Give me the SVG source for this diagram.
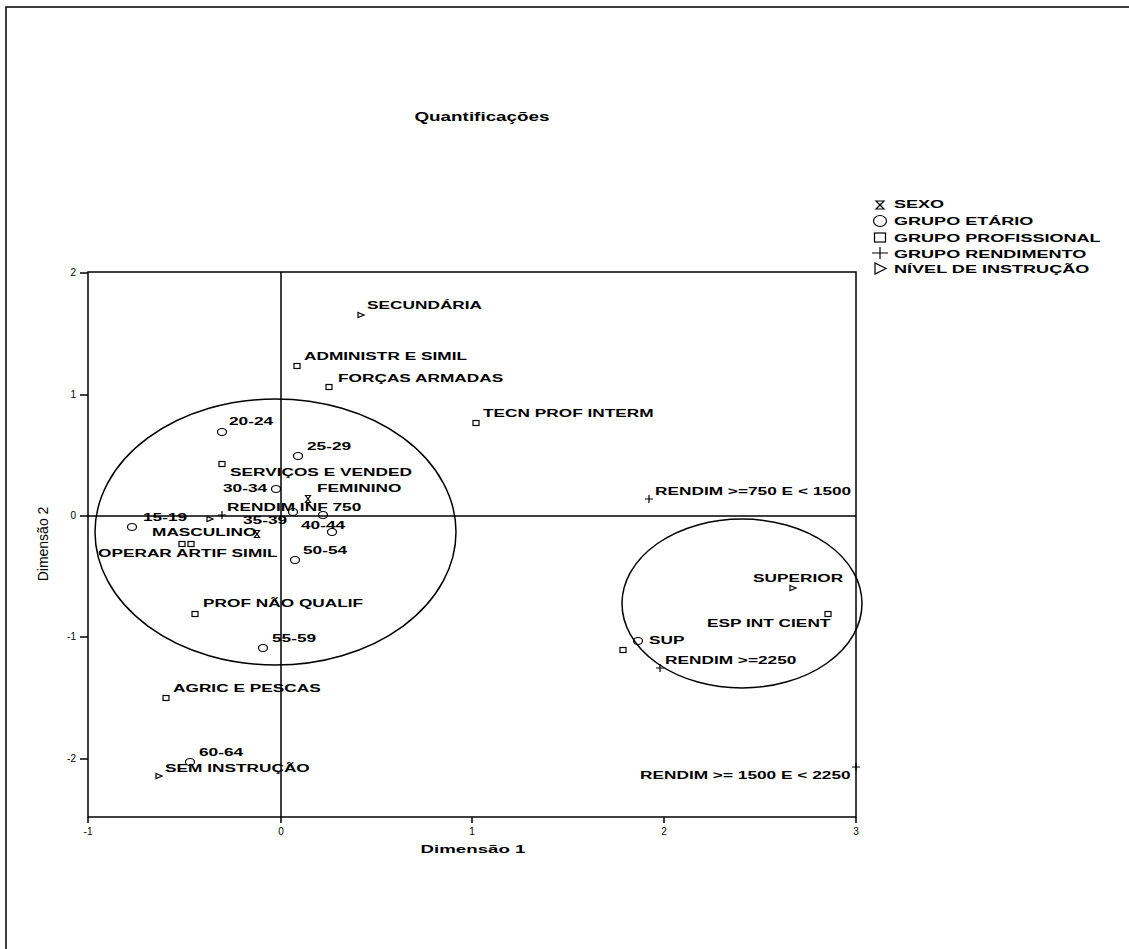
<svg xmlns="http://www.w3.org/2000/svg" xmlns:xlink="http://www.w3.org/1999/xlink" width="1129" height="949" viewBox="0 0 1129 949">
<style>
.mk{fill:none;stroke:#000;stroke-width:1.2}
.ln{fill:none;stroke:#000;stroke-width:1.5}
.lb{font-family:"Liberation Sans",Arial,sans-serif;font-weight:bold;font-size:11px;fill:#000}
.lg{font-family:"Liberation Sans",Arial,sans-serif;font-weight:bold;font-size:10.5px;fill:#000}
.tk{font-family:"Liberation Sans",Arial,sans-serif;font-size:10px;fill:#000}
.ttl{font-family:"Liberation Sans",Arial,sans-serif;font-weight:bold;font-size:13px;fill:#000}
.ax{font-family:"Liberation Sans",Arial,sans-serif;font-size:14px;fill:#000}
</style>
<defs>
<ellipse id="mc" rx="4.5" ry="3.5" class="mk"/>
<rect id="ms" x="-3" y="-2.5" width="6" height="5" class="mk"/>
<path id="mt" d="M-3,-2.5 L3,0 L-3,2.5 Z" class="mk"/>
<path id="mp" d="M-4,0 H4 M0,-4 V4" class="mk"/>
<path id="mh" d="M-2.5,-3.5 H2.5 L-2.5,3.5 H2.5 Z" class="mk"/>
</defs>
<rect width="1129" height="949" fill="#fff"/>
<path class="ln" d="M6,949 V7 H1129"/>
<text class="ttl" text-anchor="middle" transform="translate(482 121) scale(1.45 1)">Quantificações</text>
<g id="legend">
<path class="mk" d="M876,201 H884 L876,209 H884 Z"/>
<text class="lg" transform="translate(894 208) scale(1.72 1)">SEXO</text>
<ellipse class="mk" cx="880" cy="221" rx="6.5" ry="5.5"/>
<text class="lg" transform="translate(894 225) scale(1.72 1)">GRUPO ETÁRIO</text>
<rect class="mk" x="874.5" y="233" width="11" height="9"/>
<text class="lg" transform="translate(894 242) scale(1.72 1)">GRUPO PROFISSIONAL</text>
<path class="mk" d="M872,253 H888 M880,247 V259"/>
<text class="lg" transform="translate(894 258) scale(1.72 1)">GRUPO RENDIMENTO</text>
<path class="mk" d="M875,263 L886,268.5 L875,274 Z"/>
<text class="lg" transform="translate(894 273) scale(1.72 1)">NÍVEL DE INSTRUÇÃO</text>
</g>
<g id="axes">
<rect class="ln" x="88" y="272" width="768" height="545"/>
<path class="ln" d="M281,272 V817 M88,516 H856"/>
<path class="ln" d="M80,273 H88 M80,395 H88 M80,516 H88 M80,637 H88 M80,759 H88"/>
<path class="ln" d="M88,817 V823 M281,817 V823 M472,817 V823 M664,817 V823 M856,817 V823"/>
<text class="tk" text-anchor="end" x="76" y="276">2</text>
<text class="tk" text-anchor="end" x="76" y="398">1</text>
<text class="tk" text-anchor="end" x="76" y="519">0</text>
<text class="tk" text-anchor="end" x="76" y="640">-1</text>
<text class="tk" text-anchor="end" x="76" y="762">-2</text>
<text class="tk" text-anchor="middle" x="88" y="835">-1</text>
<text class="tk" text-anchor="middle" x="281" y="835">0</text>
<text class="tk" text-anchor="middle" x="472" y="835">1</text>
<text class="tk" text-anchor="middle" x="664" y="835">2</text>
<text class="tk" text-anchor="middle" x="856" y="835">3</text>
<text class="lb" text-anchor="middle" transform="translate(473 853) scale(1.7 1)">Dimensão 1</text>
<text class="ax" text-anchor="middle" transform="translate(48 544) rotate(-90)">Dimensão 2</text>
</g>
<g id="connectors">
<ellipse class="ln" cx="275.5" cy="532" rx="180.5" ry="133"/>
<ellipse class="ln" cx="742" cy="603.5" rx="120" ry="84.5"/>
</g>
<g id="n-secundaria"><use href="#mt" x="361" y="315"/><text class="lb" transform="translate(367 309) scale(1.57 1)">SECUNDÁRIA</text></g>
<g id="n-administr"><use href="#ms" x="297" y="366"/><text class="lb" transform="translate(304 360) scale(1.57 1)">ADMINISTR E SIMIL</text></g>
<g id="n-forcas"><use href="#ms" x="329" y="387"/><text class="lb" transform="translate(338 382) scale(1.57 1)">FORÇAS ARMADAS</text></g>
<g id="n-tecn"><use href="#ms" x="476" y="423"/><text class="lb" transform="translate(483 417) scale(1.57 1)">TECN PROF INTERM</text></g>
<g id="n-20-24"><use href="#mc" x="222" y="432"/><text class="lb" transform="translate(229 425) scale(1.57 1)">20-24</text></g>
<g id="n-25-29"><use href="#mc" x="298" y="456"/><text class="lb" transform="translate(307 450) scale(1.57 1)">25-29</text></g>
<g id="n-servicos"><use href="#ms" x="222" y="464"/><text class="lb" transform="translate(230 476) scale(1.57 1)">SERVIÇOS E VENDED</text></g>
<g id="n-30-34"><use href="#mc" x="276" y="489"/><text class="lb" transform="translate(223 492) scale(1.57 1)">30-34</text></g>
<g id="n-feminino"><use href="#mh" x="308" y="499"/><text class="lb" transform="translate(317 492) scale(1.57 1)">FEMININO</text></g>
<g id="n-rendinf"><use href="#mp" x="222" y="515"/><text class="lb" transform="translate(227 511) scale(1.57 1)">RENDIM INF 750</text></g>
<g id="n-primaria"><use href="#mt" x="210" y="519"/></g>
<g id="n-15-19"><use href="#mc" x="132" y="527"/><text class="lb" transform="translate(143 521) scale(1.57 1)">15-19</text></g>
<g id="n-35-39"><use href="#mc" x="293" y="512"/><text class="lb" transform="translate(243 524) scale(1.57 1)">35-39</text></g>
<g id="n-c323"><use href="#mc" x="323" y="515"/></g>
<g id="n-40-44"><use href="#mc" x="332" y="532"/><text class="lb" transform="translate(301 529) scale(1.57 1)">40-44</text></g>
<g id="n-masculino"><use href="#mh" x="257" y="534"/><text class="lb" transform="translate(152 536) scale(1.57 1)">MASCULINO</text></g>
<g id="n-operar"><use href="#ms" x="182" y="544"/><use href="#ms" x="191" y="544"/><text class="lb" transform="translate(98 557) scale(1.57 1)">OPERAR ARTIF SIMIL</text></g>
<g id="n-50-54"><use href="#mc" x="295" y="560"/><text class="lb" transform="translate(303 554) scale(1.57 1)">50-54</text></g>
<g id="n-profnao"><use href="#ms" x="195" y="614"/><text class="lb" transform="translate(203 607) scale(1.57 1)">PROF NÃO QUALIF</text></g>
<g id="n-55-59"><use href="#mc" x="263" y="648"/><text class="lb" transform="translate(272 642) scale(1.57 1)">55-59</text></g>
<g id="n-agric"><use href="#ms" x="166" y="698"/><text class="lb" transform="translate(173 692) scale(1.57 1)">AGRIC E PESCAS</text></g>
<g id="n-60-64"><use href="#mc" x="190" y="762"/><text class="lb" transform="translate(199 756) scale(1.57 1)">60-64</text></g>
<g id="n-seminstr"><use href="#mt" x="159" y="776"/><text class="lb" transform="translate(165 772) scale(1.57 1)">SEM INSTRUÇÃO</text></g>
<g id="n-rend750"><use href="#mp" x="649" y="499"/><text class="lb" transform="translate(655 495) scale(1.57 1)">RENDIM &gt;=750 E &lt; 1500</text></g>
<g id="n-superior"><use href="#mt" x="793" y="588"/><text class="lb" transform="translate(753 582) scale(1.57 1)">SUPERIOR</text></g>
<g id="n-espint"><use href="#ms" x="828" y="614"/><text class="lb" transform="translate(707 627) scale(1.57 1)">ESP INT CIENT</text></g>
<g id="n-sup"><use href="#mc" x="638" y="641"/><text class="lb" transform="translate(649 644) scale(1.57 1)">SUP</text></g>
<g id="n-s623"><use href="#ms" x="623" y="650"/></g>
<g id="n-rend2250"><use href="#mp" x="660" y="668"/><text class="lb" transform="translate(665 664) scale(1.57 1)">RENDIM &gt;=2250</text></g>
<g id="n-rend1500"><use href="#mp" x="856" y="767"/><text class="lb" transform="translate(640 779) scale(1.57 1)">RENDIM &gt;= 1500 E &lt; 2250</text></g>
</svg>
